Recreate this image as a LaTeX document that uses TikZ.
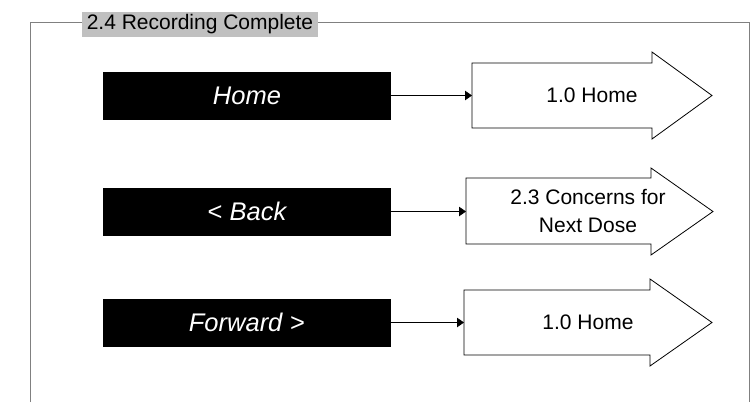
\documentclass[tikz,border=0pt]{standalone}
\usepackage{fontspec}
\setmainfont{Liberation Sans}
\usetikzlibrary{arrows.meta}
\definecolor{framegray}{HTML}{808080}
\definecolor{titlegray}{HTML}{C0C0C0}
\begin{document}
\begin{tikzpicture}[x=1pt,y=-1pt,
  framestyle/.style={draw=framegray, line width=1pt},
  titlebox/.style={fill=titlegray, inner sep=0pt, minimum width=236pt, minimum height=25pt, font=\fontsize{21}{25}\selectfont},
  btn/.style={fill=black, text=white, minimum width=288pt, minimum height=48pt, inner sep=0pt, font=\fontsize{25.5}{30}\selectfont\itshape},
  lbl/.style={align=center, font=\fontsize{21}{28}\selectfont},
  shapeline/.style={draw=black, fill=white, line width=0.8pt, line join=miter},
  conn/.style={-{Triangle[length=7pt,width=9.5pt]}, line width=0.8pt}
]
\useasboundingbox (0,0) rectangle (755,402);
% frame
\draw[framestyle] (30,402) -- (30,22.5) -- (749,22.5) -- (749,402);
\node[titlebox] (title) at (200,24.5) {2.4 Recording Complete};
% buttons
\node[btn] (b1) at (247,95.5) {Home};
\node[btn] (b2) at (247,211.5) {\textup{<} Back};
\node[btn] (b3) at (247,322.5) {Forward \textup{>}};
% arrow shapes
\draw[shapeline] (472,63) -- (652,63) -- (652,52) -- (712,95.5) -- (652,139) -- (652,128) -- (472,128) -- cycle;
\coordinate (a1in) at (472,95.5);
\node[lbl] (a1) at (592,95.5) {1.0 Home};
\draw[shapeline] (466,178) -- (651,178) -- (651,168) -- (713,211.5) -- (651,255) -- (651,244) -- (466,244) -- cycle;
\coordinate (a2in) at (466,211.5);
\node[lbl] (a2) at (588,211) {2.3 Concerns for\\Next Dose};
\draw[shapeline] (464,290) -- (650,290) -- (650,279) -- (712,322.5) -- (650,366) -- (650,355) -- (464,355) -- cycle;
\coordinate (a3in) at (464,322.5);
\node[lbl] (a3) at (588,322.5) {1.0 Home};
% connectors
\draw[conn] (b1.east) -- (a1in);
\draw[conn] (b2.east) -- (a2in);
\draw[conn] (b3.east) -- (a3in);
\end{tikzpicture}
\end{document}
